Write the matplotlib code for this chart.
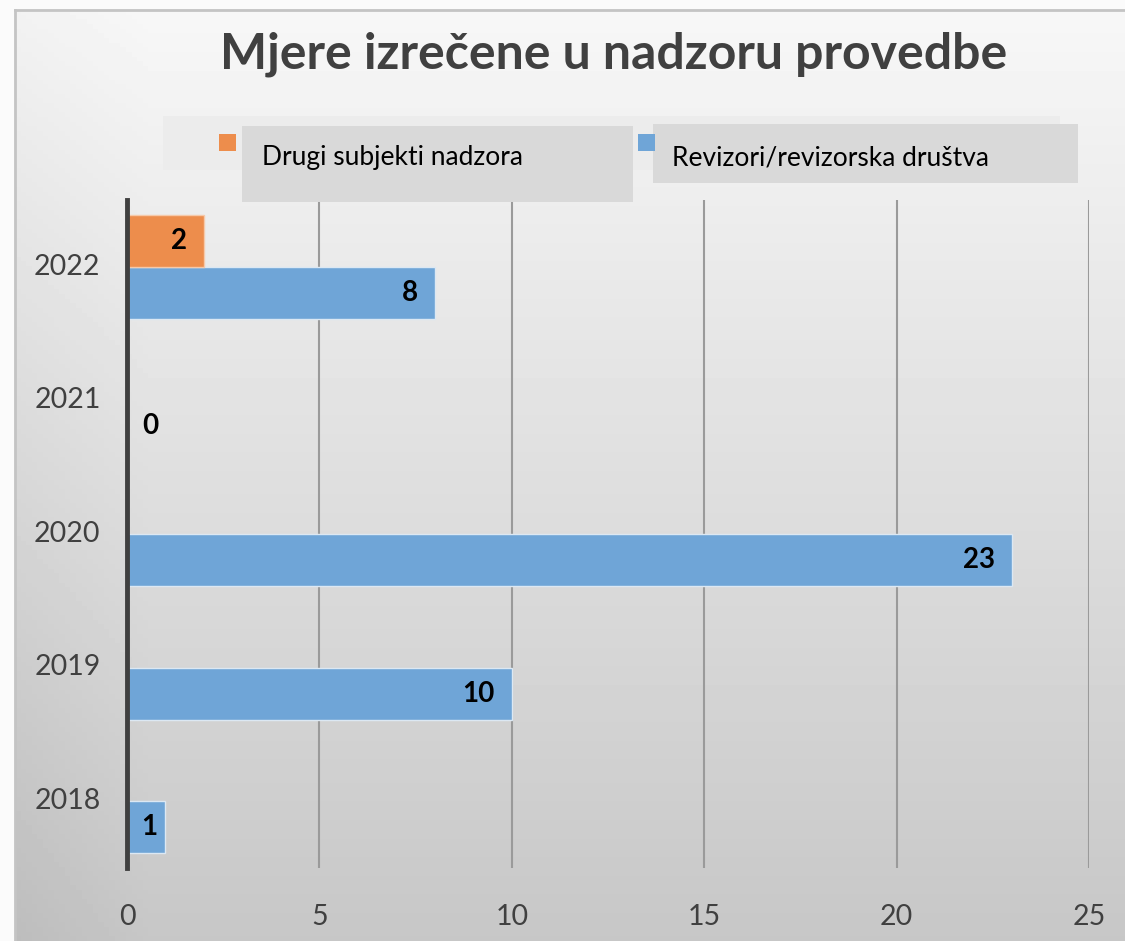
import matplotlib
matplotlib.use("Agg")
import matplotlib.pyplot as plt
from matplotlib.patches import Rectangle
import numpy as np

plt.rcParams['font.family'] = ['Lato', 'DejaVu Sans']

years = ['2018', '2019', '2020', '2021', '2022']
revizori = [1, 10, 23, 0, 8]
drugi = [None, None, None, None, 2]

title = 'Mjere izrečene u nadzoru provedbe'
label_drugi = 'Drugi subjekti nadzora'
label_revizori = 'Revizori/revizorska društva'
xticks = [0, 5, 10, 15, 20, 25]

blue = '#6fa5d7'
orange = '#ed8d4c'
text_grey = '#404040'

fig = plt.figure(figsize=(11.25, 9.41), dpi=100)
fig.patch.set_facecolor('#fbfbfb')

# background gradient panel
bg = fig.add_axes([15 / 1125, 0, 1 - 15 / 1125, 1 - 10 / 941], zorder=0)
yy, xx = np.mgrid[0:1:200j, 0:1:200j]
shade = 247 - 48 * yy - 10 * np.clip(1 - xx / 0.12, 0, 1) * (0.5 + 0.5 * yy)
bg.imshow(shade, cmap='gray', vmin=0, vmax=255, aspect='auto', extent=[0, 1, 1, 0])
bg.set_xlim(0, 1)
bg.set_ylim(1, 0)
for s in ['top', 'left']:
    bg.spines[s].set_color('#c4c4c4')
    bg.spines[s].set_linewidth(2)
for s in ['right', 'bottom']:
    bg.spines[s].set_visible(False)
bg.set_xticks([])
bg.set_yticks([])

ax = fig.add_axes([127 / 1125, 1 - 868 / 941, (1089 - 127) / 1125, (868 - 200) / 941], zorder=2)
ax.patch.set_alpha(0)

y = np.arange(len(years))
h = 0.39
rev_vals = np.array(revizori, dtype=float)
ax.barh(y - h / 2, rev_vals, height=h, color=blue, edgecolor='#dce8f3', linewidth=1, zorder=3)
drugi_vals = np.array([v if v is not None else 0 for v in drugi], dtype=float)
ax.barh(y + h / 2, drugi_vals, height=h, color=orange, edgecolor='#f6c9a9', linewidth=1, zorder=3)

lab_kw = dict(va='center', fontsize=20, fontweight='bold', color='black', zorder=4)
for yi, v in zip(y, revizori):
    if v > 0:
        ax.text(max(v - 0.45, 0.8), yi - h / 2, str(v), ha='right', **lab_kw)
    else:
        ax.text(0.4, yi - h / 2, str(v), ha='left', **lab_kw)
for yi, v in zip(y, drugi):
    if v is not None:
        ax.text(max(v - 0.45, 0.8), yi + h / 2, str(v), ha='right', **lab_kw)

ax.set_xlim(0, 25)
ax.set_ylim(-0.5, len(years) - 0.5)
ax.set_xticks(xticks)
ax.set_xticklabels([str(t) for t in xticks])
ax.set_yticks(y + 0.02)
ax.set_yticklabels(years)
ax.tick_params(axis='both', length=0, labelsize=20.5, colors=text_grey)
ax.tick_params(axis='x', pad=26)
ax.tick_params(axis='y', pad=19)
ax.grid(axis='x', color='#9a9a9a', linewidth=1.5, zorder=1)
ax.set_axisbelow(True)
for s in ['top', 'right', 'bottom']:
    ax.spines[s].set_visible(False)
ax.spines['left'].set_color('#404040')
ax.spines['left'].set_linewidth(3.5)
ax.spines['left'].set_zorder(5)

# title
fig.text(614 / 1125, 1 - 54 / 941, title, ha='center', va='center', fontsize=36,
         fontweight='bold', color=text_grey)

# legend (drawn by hand, with the grey label boxes)
def fbox(x0, y0, x1, y1, color, z=1):
    fig.patches.append(Rectangle((x0 / 1125, 1 - y1 / 941), (x1 - x0) / 1125, (y1 - y0) / 941,
                                 transform=fig.transFigure, facecolor=color, edgecolor='none',
                                 zorder=z))

fbox(163, 116, 1060, 170, '#ececec', 1)
fbox(242, 126, 633, 202, '#d9d9d9', 2)
fbox(653, 124, 1078, 183, '#d9d9d9', 2)
fbox(219, 134, 236, 151, orange, 3)
fbox(638, 134, 655, 151, blue, 3)
fig.text(262 / 1125, 1 - 158 / 941, label_drugi, ha='left', va='center', fontsize=19, color='black')
fig.text(672 / 1125, 1 - 158 / 941, label_revizori, ha='left', va='center', fontsize=19, color='black')

fig.savefig('out.png', dpi=100)
